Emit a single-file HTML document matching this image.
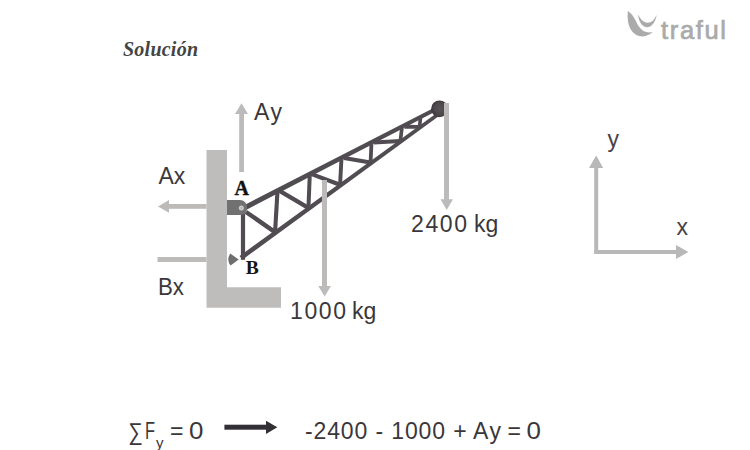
<!DOCTYPE html>
<html><head><meta charset="utf-8">
<style>
html,body{margin:0;padding:0;background:#fff;width:750px;height:450px;overflow:hidden}
svg{display:block}
.s{font-family:"Liberation Sans",sans-serif;fill:#3a373b}
</style></head>
<body>
<svg width="750" height="450" viewBox="0 0 750 450">
<!-- title -->
<text id="tSol" x="123" y="56" font-family="&quot;Liberation Serif&quot;, serif" font-weight="bold" font-style="italic" font-size="20" fill="#444444" textLength="75" lengthAdjust="spacing">Solución</text>
<!-- logo -->
<g fill="#ababab">
<path d="M627.8,11 C627,21 628.5,30 636,34.8 C642,38 649,36 652.7,32.1 C647,33.5 642,31.5 638.5,26 C636,21.5 633.5,14.5 627.8,11 Z"/>
<path d="M638,14.3 C638.8,22.5 642.5,27.2 647.2,27.2 C652,27.2 655.8,21.5 656.7,14.8 C654.5,19.8 651.5,22.8 647.5,22.8 C643.5,22.8 640.2,19 638,14.3 Z"/>
</g>
<text id="tLogo" x="661" y="38.8" font-family="&quot;Liberation Sans&quot;, sans-serif" font-weight="normal" font-size="25.5" fill="#aaaaaa" stroke="#aaaaaa" stroke-width="0.7" textLength="65" lengthAdjust="spacing">traful</text>

<!-- wall -->
<path d="M206.5,150 H227 V287.3 H281 V307.8 H206.5 Z" fill="#bfbdbc"/>
<!-- Bx line -->
<rect x="157.5" y="257" width="49" height="5" fill="#bdbbba"/>
<!-- Ax arrow -->
<rect x="168" y="204" width="38.5" height="4.8" fill="#bdbbba"/>
<path d="M158,206.4 L169,200 L169,212.8 Z" fill="#bdbbba"/>
<!-- Ay arrow -->
<rect x="239.2" y="113" width="4.8" height="59" fill="#bdbbba"/>
<path d="M241.5,103.3 L235,114 L248,114 Z" fill="#bdbbba"/>

<!-- truss -->
<g id="truss" stroke="#504c51" fill="none" stroke-linecap="butt">
<polygon points="242.19,212.01 438.92,109.78 437.08,106.22 239.81,207.39" fill="#504c51" stroke="none"/>
<polygon points="242.35,259.65 441.06,114.46 438.94,111.54 239.65,255.93" fill="#504c51" stroke="none"/>
<line x1="243.0" y1="209.0" x2="243.0" y2="259.8" stroke-width="4.20"/>
<line x1="246.0" y1="212.0" x2="275.0" y2="232.1" stroke-width="4.40"/>
<line x1="275.0" y1="233.1" x2="277.5" y2="190.9" stroke-width="4.10"/>
<line x1="280.0" y1="191.1" x2="308.4" y2="207.8" stroke-width="4.30"/>
<line x1="308.4" y1="208.8" x2="309.8" y2="174.2" stroke-width="4.00"/>
<line x1="312.3" y1="174.4" x2="340.0" y2="184.8" stroke-width="4.20"/>
<line x1="340.0" y1="185.8" x2="341.5" y2="157.8" stroke-width="3.90"/>
<line x1="344.0" y1="158.0" x2="370.5" y2="162.6" stroke-width="4.10"/>
<line x1="370.5" y1="163.6" x2="371.5" y2="142.3" stroke-width="3.80"/>
<line x1="374.0" y1="142.5" x2="400.3" y2="140.9" stroke-width="4.00"/>
<line x1="400.3" y1="141.9" x2="402.0" y2="126.6" stroke-width="3.70"/>
<line x1="404.5" y1="126.8" x2="419.5" y2="126.9" stroke-width="3.90"/>
<line x1="419.5" y1="127.9" x2="420.5" y2="117.0" stroke-width="3.60"/>
</g>
<!-- bracket A -->
<path d="M227,200 H240 A7,7 0 0 1 247,207 V209 A6,6 0 0 1 241,215 H227 Z" fill="#717171"/>
<circle cx="241.3" cy="208" r="2.5" fill="#cbcbcb"/><circle cx="241.3" cy="208" r="0.7" fill="#9a9a9a"/>
<!-- wedge B -->
<path d="M238.7,259.4 L230.3,253.6 A10.2,10.2 0 0 0 230.6,265.6 Z" fill="#6e6e6e"/>
<!-- ball -->
<defs><radialGradient id="bg" cx="0.55" cy="0.5" r="0.55"><stop offset="0" stop-color="#575357"/><stop offset="0.7" stop-color="#4a464a"/><stop offset="1" stop-color="#383538"/></radialGradient></defs><circle cx="439.5" cy="108.8" r="8.4" fill="url(#bg)"/>

<!-- 1000 kg arrow -->
<rect x="322" y="180" width="5" height="108" fill="#bdbbba"/>
<path d="M318.3,286 L331,286 L324.6,296.4 Z" fill="#bdbbba"/>
<!-- 2400 kg arrow -->
<rect x="444" y="103" width="5" height="98" fill="#bdbbba"/>
<path d="M440.5,199.3 L453,199.3 L446.7,210 Z" fill="#bdbbba"/>

<!-- labels -->
<text id="tAy" class="s" x="254" y="120" font-size="23" textLength="28" lengthAdjust="spacing">Ay</text>
<text id="tAx" class="s" x="158.5" y="184" font-size="23">Ax</text>
<text id="tBx" class="s" x="158" y="295" font-size="24" textLength="26" lengthAdjust="spacingAndGlyphs">Bx</text>
<text id="t2400" class="s" x="411" y="232.2" font-size="23" textLength="56" lengthAdjust="spacing">2400</text>
<text id="t2400k" class="s" x="474" y="232.2" font-size="23">kg</text>
<text id="t1000" class="s" x="290" y="318.7" font-size="23" textLength="56" lengthAdjust="spacing">1000</text>
<text id="t1000k" class="s" x="352" y="318.7" font-size="23">kg</text>
<text id="tA" x="234.5" y="195" font-family="&quot;Liberation Serif&quot;, serif" font-weight="bold" font-size="20" fill="#111" stroke="#111" stroke-width="0.35">A</text>
<text id="tB" x="245.7" y="274" font-family="&quot;Liberation Serif&quot;, serif" font-weight="bold" font-size="19.5" fill="#151515">B</text>

<!-- axes -->
<rect x="594.2" y="167" width="4" height="86" fill="#b8b8b8"/>
<path d="M596.2,155.5 L589,168 L603.2,168 Z" fill="#b8b8b8"/>
<rect x="594.2" y="250" width="83" height="4" fill="#b8b8b8"/>
<path d="M688.4,252 L676,245 L676,259 Z" fill="#b8b8b8"/>
<text id="ty" class="s" style="fill:#464347" x="607.5" y="146.8" font-size="23">y</text>
<text id="tx" class="s" style="fill:#464347" x="676.5" y="235" font-size="23">x</text>

<!-- equation -->
<text id="eS" class="s" x="128.3" y="439.5" font-size="24.5" textLength="14.5" lengthAdjust="spacingAndGlyphs">∑</text>
<text id="eF" class="s" x="145" y="439" font-size="23" textLength="10" lengthAdjust="spacingAndGlyphs">F</text>
<text id="ey" class="s" x="156" y="448" font-size="15">y</text>
<text id="eEq" class="s" x="170" y="439" font-size="23">=</text>
<text id="e0" class="s" x="189" y="439.3" font-size="23.5" textLength="14.4" lengthAdjust="spacingAndGlyphs">0</text>
<rect x="224.4" y="424.7" width="43" height="5" fill="#333035"/>
<path d="M266,420.7 L277.3,427.2 L266,434 Z" fill="#333035"/>
<text id="r1" class="s" x="305" y="439" font-size="23" textLength="140" lengthAdjust="spacing">-2400 - 1000</text>
<text id="r2" class="s" x="453.3" y="439" font-size="23">+</text>
<text id="r3" class="s" x="473" y="439" font-size="23" textLength="28" lengthAdjust="spacing">Ay</text>
<text id="r4" class="s" x="507.5" y="439" font-size="23">=</text>
<text id="r5" class="s" x="526.5" y="439.3" font-size="23.5" textLength="14.4" lengthAdjust="spacingAndGlyphs">0</text>
</svg>
</body></html>
